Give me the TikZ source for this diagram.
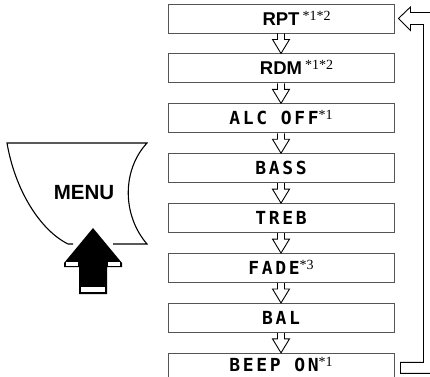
\documentclass[tikz,border=0pt]{standalone}
\usepackage{fontspec}
\setmainfont{Liberation Serif}
\setsansfont{Liberation Sans}
\newfontfamily\lcdfont{DejaVu Sans Mono}[LetterSpace=15]
\usetikzlibrary{positioning,calc}
\definecolor{boxline}{HTML}{555555}
\newcommand{\fnote}[1]{\smash{\raisebox{5pt}{\rmfamily\mdseries\fontsize{14}{14}\selectfont #1}}}
% superscript hanging to the right, main text stays centred
\newcommand{\hangnote}[2]{\hphantom{\,\fnote{#2}}#1\,\fnote{#2}}
\tikzset{
  menubox/.style  = {draw=boxline, line width=0.9pt, minimum width=226pt,
                     minimum height=29pt, inner sep=0pt, text=black,
                     text height=13pt, text depth=0pt},
  keytext/.style  = {menubox, font=\sffamily\bfseries\fontsize{18.5}{19}\selectfont},
  lcdtext/.style  = {menubox, font=\lcdfont\bfseries\fontsize{18}{18}\selectfont},
  hollowdown/.style = {draw=black, line width=0.9pt, line join=miter,
     to path={($(\tikztostart.south)+(-3.5,0)$) -- ++(0,6) -- ++(-5,0)
              -- (\tikztotarget.north) -- ($(\tikztostart.south)+(8.5,6)$)
              -- ++(-5,0) -- ++(0,-6)}},
  loopline/.style = {draw=black, line width=0.9pt, line join=miter},
  panel/.style    = {draw=black, line width=1.1pt},
}

\begin{document}
\begin{tikzpicture}[x=1pt,y=-1pt,node distance=20pt]
    \useasboundingbox (0,0) rectangle (430,376);
    % menu list
    \node[keytext] (rpt) at (281,18.5) {\hangnote{RPT}{*1*2}};
    \node[keytext,below=of rpt] (rdm) {\hangnote{RDM}{*1*2}};
    \node[lcdtext,below=of rdm] (alc) {ALC OFF\fnote{*1}};
    \node[lcdtext,below=of alc] (bass) {BASS};
    \node[lcdtext,below=of bass] (treb) {TREB};
    \node[lcdtext,below=of treb] (fade) {FADE\fnote{*3}};
    \node[lcdtext,below=of fade] (bal) {BAL};
    \node[lcdtext,below=of bal,text depth=5pt] (beep) {BEEP ON\fnote{*1}};
    \draw[hollowdown] (rpt) to (rdm); \draw[hollowdown] (rdm) to (alc);
    \draw[hollowdown] (alc) to (bass); \draw[hollowdown] (bass) to (treb);
    \draw[hollowdown] (treb) to (fade); \draw[hollowdown] (fade) to (bal);
    \draw[hollowdown] (bal) to (beep);
    % back to the top
    \draw[loopline] ($(beep.east)+(36,5.5)$) -- ++(-30,0) -- ++(0,-11) -- ++(23,0)
        -- ($(rpt.east)+(29,6)$) -- ++(-13,0) -- ++(0,6) -- ($(rpt.east)+(4,0)$)
        -- ++(12,-11.5) -- ++(0,5.5) -- ++(20,0);
    % menu button
    \draw[panel] (73,244) -- (68,244) .. controls (40,230) and (15,190) .. (7,143)
        -- (147,143) .. controls (122,170) and (122,215) .. (147,244) -- (113,244);
    \node[font=\sffamily\bfseries\fontsize{20.5}{21}\selectfont] (menu) at (84,193) {MENU};
    \fill[black] (93,228) -- (122,263) -- (122,267) -- (107,267) -- (107,294)
        -- (79,294) -- (79,267) -- (64,267) -- (64,263) -- cycle;
    \fill[white] (66,262) rectangle (78,266);
    \fill[white] (108,262) rectangle (120,266);
    \fill[white] (81,287) rectangle (105,292);
\end{tikzpicture}
\end{document}
